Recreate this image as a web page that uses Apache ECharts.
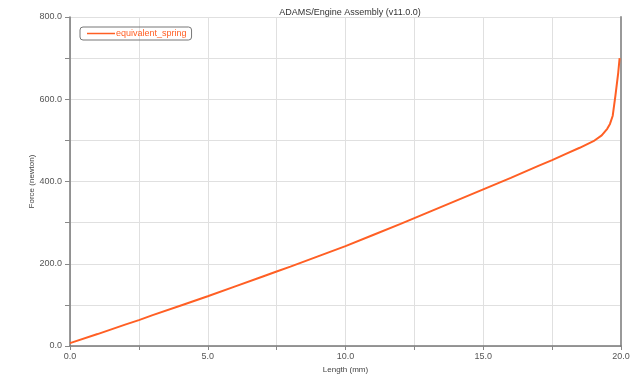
<!DOCTYPE html>
<html>
<head>
<meta charset="utf-8">
<script src="https://cdn.jsdelivr.net/npm/echarts@6/dist/echarts.min.js"></script>
<style>html,body{margin:0;padding:0;background:#fff;}#c{width:635px;height:375px;}</style>
</head>
<body>
<div id="c"></div>
<script>
const titleText = "ADAMS/Engine Assembly (v11.0.0)";
const seriesName = "equivalent_spring";
const xName = "Length (mm)";
const yName = "Force (newton)";
const lengthMm = [0, 1, 2, 2.5, 3, 4, 5, 6, 7, 7.5, 8, 9, 10, 11, 12, 12.5, 13, 14, 15, 16, 17, 17.5, 18, 18.5, 19, 19.3, 19.5, 19.6, 19.7, 19.8, 19.9, 19.95];
const forceN = [7, 29, 52, 63, 75, 98, 121, 145, 169, 181, 193, 218, 243, 270, 297, 311, 325, 353, 381, 409, 438, 452, 467, 482, 498, 512, 528, 540, 560, 610, 665, 700];

const lineColor = '#ff5f24';
const chart = echarts.init(document.getElementById('c'), null, {renderer: 'canvas'});
const data = lengthMm.map((x, i) => [x, forceN[i]]);
const font = 'Liberation Sans, Arial, sans-serif';
chart.setOption({
  animation: false,
  backgroundColor: '#fff',
  title: {
    text: titleText, left: 345, top: 3, textAlign: 'center',
    textStyle: {fontSize: 9, fontWeight: 'normal', color: '#333', fontFamily: font}
  },
  legend: {
    left: 80, top: 27, orient: 'vertical',
    borderColor: '#777', borderWidth: 1, borderRadius: 3, padding: [2, 5, 2, 7],
    itemWidth: 28, itemHeight: 1.5, itemGap: 0,
    icon: 'rect',
    itemStyle: {color: lineColor},
    textStyle: {fontSize: 9, color: lineColor, fontFamily: font, padding: [0,0,0,-4]},
    data: [seriesName]
  },
  grid: {left: 70, right: 14, top: 17, bottom: 29, outerBoundsMode: 'none', containLabel: false},
  xAxis: [{
    type: 'value', min: 0, max: 20, interval: 2.5,
    name: xName, nameLocation: 'middle', nameGap: 20, nameMoveOverlap: false,
    nameTextStyle: {fontSize: 8, color: '#444', fontFamily: font},
    axisLine: {show: true, lineStyle: {color: '#777', width: 1.5}},
    axisTick: {show: true, inside: false, length: 4, lineStyle: {color: '#888'}},
    axisLabel: {fontSize: 9, color: '#555', fontFamily: font, margin: 6,
      formatter: v => (v % 5 === 0 ? v.toFixed(1) : '')},
    splitLine: {show: true, lineStyle: {color: '#e0e0e0', width: 1}}
  }],
  yAxis: [{
    type: 'value', min: 0, max: 800, interval: 100,
    name: yName, nameLocation: 'middle', nameGap: 34, nameRotate: 90, nameMoveOverlap: false,
    nameTextStyle: {fontSize: 8, color: '#444', fontFamily: font},
    axisLine: {show: true, lineStyle: {color: '#777', width: 1.5}},
    axisTick: {show: true, inside: false, length: 5, lineStyle: {color: '#888'}},
    axisLabel: {fontSize: 9, color: '#555', fontFamily: font, margin: 8,
      formatter: v => (v % 200 === 0 ? v.toFixed(1) : '')},
    splitLine: {show: true, lineStyle: {color: '#e0e0e0', width: 1}}
  }, {
    type: 'value', min: 0, max: 800, interval: 100, position: 'right',
    axisLine: {show: true, lineStyle: {color: '#999', width: 2}},
    axisTick: {show: false}, axisLabel: {show: false}, splitLine: {show: false}
  }],
  series: [{
    name: seriesName, type: 'line', data: data, showSymbol: false, symbol: 'none',
    lineStyle: {color: lineColor, width: 2}, itemStyle: {color: lineColor}
  }]
});
</script>
</body>
</html>
